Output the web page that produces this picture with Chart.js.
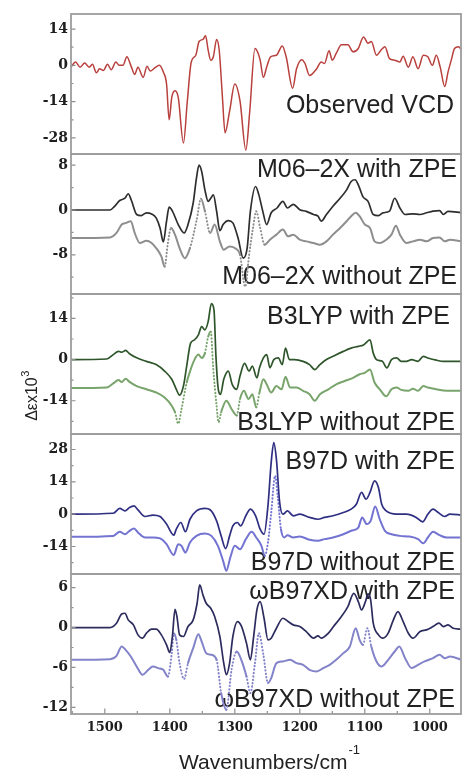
<!DOCTYPE html>
<html>
<head>
<meta charset="utf-8">
<script src="https://cdn.jsdelivr.net/npm/chart.js@4.4.1/dist/chart.umd.min.js"></script>
<style>
  html, body { margin: 0; padding: 0; background: #fff; width: 462px; height: 774px; overflow: hidden; }
  #wrap { position: relative; width: 462px; height: 774px; }
  #wrap canvas { position: absolute; left: 0; }
</style>
</head>
<body>
<div id="wrap"></div>
<script>
// ---- wavenumber axis (cm-1) ----
const xTicks = [1500, 1400, 1300, 1200, 1100, 1000];
const xMin = 952, xMax = 1552;

// ---- y tick values per panel ----
const ticksObs = [-28, -14, 0, 14];
const ticksM06 = [-8, 0, 8];
const ticksB3 = [-14, 0, 14];
const ticksB97 = [-14, 0, 14, 28];
const ticksWb = [-12, -6, 0, 6];

// ---- Observed VCD ----
const obsWn = [1552,1545,1538,1531,1524,1519,1513,1508,1502,1496,1490,1483,1478,1472,1466,1460,1454,1449,1441,1435,1430,1423,1416,1410,1405,1401,1397,1392,1387,1379,1373,1367,1360,1355,1349,1345,1341,1337,1333,1328,1324,1319,1315,1308,1300,1292,1283,1277,1269,1264,1261,1256,1251,1245,1236,1227,1221,1211,1205,1197,1192,1185,1174,1167,1162,1155,1150,1144,1136,1126,1118,1110,1102,1095,1090,1082,1074,1069,1062,1054,1046,1041,1033,1026,1018,1010,1003,996,990,984,977,972,967,962,956,951];
const obsVal = [-0.7,1.3,-0.7,0.9,-0.7,0.4,-2.9,-1.3,-2,0.4,-1.7,1.3,0,0,3.3,0,-3.5,-0.7,-4.6,-0.4,-2.2,-1,0,-2.6,-7.2,-21,-12.4,-9.8,-12.4,-30,-13.7,1.3,3.9,9.2,10,11.4,5.9,2,3.3,10,5.9,-12.4,-26,-17.7,-7.2,-13.7,-32.7,-17.7,6.5,4.6,2,-4.6,-0.7,3.3,3.9,7.5,3.3,-8.8,-1.3,2.2,0.7,-3.9,-1.3,1.3,0.7,5.6,2,4.6,7.9,7.9,5.2,6.5,10.9,8.5,9.2,3.9,6.2,7.2,2.6,2,1.3,3.5,-0.7,3.3,-1.3,3.9,3.3,0,3.9,-0.7,-8.2,-2.6,2,6.5,7.2,5.9];

// ---- M06-2X ----
const m06WithWn = [1552,1492,1485,1477,1469,1464,1459,1451,1444,1436,1428,1421,1415,1410,1405,1401,1396,1387,1378,1372,1364,1359,1355,1351,1346,1341,1337,1333,1328,1323,1318,1310,1303,1295,1287,1281,1276,1268,1263,1257,1251,1244,1235,1226,1219,1210,1200,1190,1179,1172,1167,1159,1149,1138,1128,1121,1115,1110,1103,1095,1087,1079,1072,1062,1054,1046,1038,1026,1015,1005,995,985,979,972,951];
const m06WithVal = [0,0,0.66,1.7,2.1,2.9,1.7,-0.8,-1,-0.5,-0.7,-1.4,-3.2,-5.7,-2,0.5,-0.2,-2.6,-4.1,-2.6,1.25,5.7,8,6.9,3.6,1.55,2.1,2.7,-0.2,-3.7,-2.6,-1.9,-2.3,-5,-8.6,-6.8,-0.2,4.2,2.7,-0.2,-2.6,-0.5,0.36,1.55,0.36,1,0.06,-0.24,-0.8,-1.1,-2,-0.8,0.66,2.1,3.6,5.1,5.4,4.5,2.4,1.55,-0.8,-1,-0.5,-0.2,2.1,0.36,-0.8,-0.7,-0.8,-0.5,-0.2,-0.1,-0.8,-0.24,-0.5];
const m06NoWn = [1552,1492,1482,1474,1467,1460,1454,1446,1436,1428,1421,1413,1408,1403,1398,1392,1385,1377,1369,1359,1352,1346,1338,1331,1323,1317,1308,1300,1292,1284,1278,1272,1267,1261,1254,1246,1236,1226,1218,1210,1200,1190,1179,1169,1159,1149,1138,1128,1121,1114,1108,1100,1092,1085,1077,1067,1059,1052,1046,1036,1026,1015,1005,995,985,977,969,951];
const m06NoVal = [-5,-4.9,-4.1,-2.6,-2.3,-2,-4.1,-5.9,-5.5,-5.9,-6.8,-8.3,-10.1,-5.9,-3.2,-4.4,-6.8,-8.6,-6.8,-2,2,-0.2,-4.1,-2.6,-5.6,-7.1,-6.5,-6.8,-8,-13.7,-8,-3.2,-0.24,-3.2,-6.2,-5.3,-4.4,-3.5,-4.7,-4.4,-5.3,-5.6,-5.9,-6.2,-5.6,-4.4,-3.2,-2,-1.1,-0.5,-1.1,-2.6,-3.2,-5.6,-5.9,-5.3,-4.4,-2.8,-4.4,-5.9,-5.6,-5.3,-5.6,-5,-4.9,-5.6,-5.3,-5.6];

// ---- B3LYP ----
const b3WithWn = [1552,1497,1487,1479,1474,1468,1462,1451,1436,1421,1408,1397,1390,1385,1379,1374,1368,1362,1356,1351,1346,1341,1336,1332,1329,1326,1322,1317,1310,1304,1297,1292,1285,1278,1273,1266,1262,1256,1251,1246,1240,1233,1227,1222,1216,1208,1195,1185,1177,1169,1159,1149,1133,1121,1110,1102,1092,1087,1082,1073,1066,1059,1051,1044,1036,1028,1018,1010,1003,990,979,969,951];
const b3WithVal = [0,0.2,1.7,2.8,2.5,3.1,2,0.6,-0.6,-1.7,-3.9,-6.7,-10.1,-12.1,-9,-2.2,5.6,6.7,8.4,11.2,10.1,12.9,19,16.8,1.1,-9,-11.8,-6.7,-3.9,-8.4,-10.1,-5.6,-1.3,-3.9,-2.2,-6.2,-2.8,0.56,1.7,-2.8,0,0.56,-1.7,3.9,0,0,-0.6,-1.7,-3.4,-1.7,0,1.1,2.8,3.9,4.5,5,6.7,2.2,0,-0.6,-2.8,0,0.56,-0.6,-0.6,0,-0.6,1.1,0.56,-0.2,-0.6,-0.6,-0.6];
const b3NoWn = [1552,1497,1487,1479,1474,1468,1462,1451,1436,1421,1408,1397,1392,1387,1382,1374,1368,1362,1356,1351,1346,1341,1337,1333,1328,1325,1321,1313,1305,1297,1292,1286,1279,1273,1267,1262,1256,1251,1244,1236,1228,1222,1215,1205,1195,1185,1177,1169,1156,1144,1131,1118,1108,1100,1092,1085,1077,1067,1059,1051,1044,1033,1026,1018,1010,1003,990,974,951];
const b3NoVal = [-9.7,-9.5,-8.1,-6.9,-7.6,-6.5,-7.6,-9,-10.1,-11.2,-12.9,-15.7,-17.9,-21.8,-16.8,-7.8,-3.4,0,1.7,0.56,2.2,7.8,9.5,-3.4,-15.7,-21.3,-17.9,-14,-16.8,-19,-13.4,-10.6,-13.4,-11.8,-16.2,-11.2,-6.7,-8.4,-11.2,-9,-10.1,-5.8,-9.5,-9.5,-10.6,-11.8,-14,-11.8,-10.1,-8.4,-7.3,-6.2,-5,-4.5,-3.4,-7.8,-10.1,-12.5,-10.1,-9.5,-10.3,-10.6,-9.9,-10.6,-9,-9.5,-10.1,-10.6,-10.6];

// ---- B97D ----
const b97WithWn = [1552,1487,1477,1469,1462,1455,1449,1438,1426,1415,1405,1394,1390,1383,1376,1369,1359,1346,1338,1328,1321,1314,1308,1303,1296,1291,1283,1276,1268,1261,1255,1249,1244,1240,1236,1231,1226,1219,1210,1200,1185,1172,1162,1149,1133,1121,1113,1105,1098,1092,1085,1079,1074,1067,1051,1036,1021,1011,1003,995,987,977,969,951];
const b97WithVal = [0,0.4,2.5,1.4,2.9,3.6,1.9,-1,-0.4,-1,-4.3,-9.1,-6.5,-3.6,-7.6,-2.2,1.4,2.5,1.9,-2.9,-9.4,-14.9,-9.4,-5.1,-3.6,-5.1,-0.7,2.2,-0.7,-6.5,-8.7,3.6,22.4,31,23.8,5.1,0,1.4,-0.7,0,-1.4,-2.2,-1.4,-0.7,0.7,2.2,4.3,9.4,6.5,9.4,14.4,11.5,4.3,1.4,0,0,-1.4,-3.3,0,2.2,0.7,-1,0,-0.4];
const b97NoWn = [1552,1487,1477,1469,1462,1455,1449,1438,1426,1415,1405,1394,1387,1382,1376,1369,1359,1346,1336,1326,1318,1313,1307,1300,1292,1283,1274,1267,1259,1254,1249,1244,1238,1234,1229,1224,1219,1210,1200,1185,1172,1162,1149,1133,1121,1110,1104,1097,1091,1084,1077,1069,1059,1046,1031,1018,1010,1003,995,985,974,951];
const b97NoVal = [-9.8,-9.4,-7.6,-8.7,-7.2,-6.2,-7.9,-10.1,-10.1,-10.5,-13,-17.7,-13,-13.7,-16.6,-12.3,-9.4,-8.4,-9.4,-13.7,-20.2,-24.5,-18.8,-13.7,-15.2,-10.8,-7.6,-10.1,-13.7,-18,-12.3,0.7,16.6,7.9,-6.5,-10.1,-9.1,-10.1,-9.7,-11.1,-11.5,-10.8,-10.1,-8.7,-7.2,-5.8,-1.4,-4.3,-2.9,3.3,-2.2,-7.2,-8.7,-9.4,-9.7,-10.8,-12.6,-10.1,-7.6,-9.1,-10.1,-10.1];

// ---- wB97XD ----
const wbWithWn = [1552,1492,1482,1474,1469,1464,1456,1449,1442,1436,1428,1421,1413,1405,1400,1396,1392,1389,1385,1379,1372,1364,1358,1354,1349,1344,1337,1331,1323,1317,1313,1308,1303,1296,1290,1282,1276,1271,1266,1261,1255,1249,1244,1236,1226,1218,1210,1200,1190,1179,1172,1167,1156,1149,1138,1126,1117,1110,1105,1099,1095,1091,1087,1079,1072,1064,1056,1049,1041,1033,1026,1015,1005,995,986,979,972,964,951];
const wbWithVal = [0,0,0.65,2.05,2.15,1.15,0.4,-1.1,-1.6,-0.85,-0.25,-0.25,-1.1,-2.6,-3.75,-1.35,2.75,1.65,-1.1,-1.35,0.15,1.15,3.65,6.4,4.9,3.65,2.9,1.65,-1.35,-5.35,-7.1,-5.35,-1.35,0.9,0.25,-2.35,-4.85,-1.35,2.65,3.9,1.4,-1.85,-1.6,-0.1,1.4,0.9,0.4,0.15,-0.6,-1.6,-1.25,-1.6,-0.85,0.05,1.4,3.15,5.15,3.9,2.65,3.9,5.05,4.15,0.65,-1.1,-1.6,-0.85,1.15,2.4,0.9,-0.85,-1.6,-0.6,-0.35,0.15,0.65,0.15,0.4,-0.1,-0.25];
const wbNoWn = [1552,1492,1482,1474,1468,1460,1451,1442,1433,1426,1418,1410,1403,1397,1394,1390,1385,1378,1372,1364,1356,1351,1344,1336,1328,1321,1313,1305,1297,1290,1282,1276,1269,1263,1256,1249,1244,1236,1226,1215,1205,1195,1185,1174,1164,1154,1144,1133,1123,1114,1108,1103,1096,1090,1082,1074,1064,1054,1047,1038,1028,1018,1008,995,985,977,969,951];
const wbNoVal = [-4.85,-4.75,-4.25,-2.85,-3.35,-4.35,-5.85,-7.1,-6.35,-5.85,-6.1,-6.35,-7.35,-3.85,-0.85,-1.85,-5.35,-7.75,-5.35,-3.1,-1,-2.1,-3.85,-4.1,-4.85,-9.85,-12.35,-6.35,-3.6,-4.85,-7.35,-9.85,-5.35,-0.85,-4.1,-8.35,-7.6,-5.35,-5.1,-4.85,-5.35,-5.6,-6.35,-6.6,-6.1,-5.6,-4.85,-3.85,-2.85,-0.1,-1.85,-2.6,-0.1,-2.85,-5.1,-5.85,-4.85,-3.6,-2.85,-4.6,-6.1,-5.6,-5.1,-4.6,-4.1,-4.6,-4.35,-4.85];

// ---- panel layout (pixel frame of each plot box) ----
const panels = [
  { top: 14,  bottom: 154, yMin: -34.2, yMax: 19.8, yTicks: ticksObs,
    series: [ { wn: obsWn, val: obsVal, color: '#b8403d', width: 1.5 } ],
    labels: [ { text: 'Observed VCD', dx: 7, fromTop: true, dy: 99 } ] },
  { top: 154, bottom: 294, yMin: -15, yMax: 10, yTicks: ticksM06,
    series: [ { wn: m06WithWn, val: m06WithVal, color: '#2e2e2e', width: 1.7 },
              { wn: m06NoWn, val: m06NoVal, color: '#8e8e8e', width: 2, dotted: true } ],
    labels: [ { text: 'M06\u20132X with ZPE', dx: 4, fromTop: true, dy: 22.7 },
              { text: 'M06\u20132X without ZPE', dx: 4, fromTop: false, dy: 9.7 } ] },
  { top: 294, bottom: 434, yMin: -25.3, yMax: 22.3, yTicks: ticksB3, yTitle: true,
    series: [ { wn: b3WithWn, val: b3WithVal, color: '#2f552b', width: 1.7 },
              { wn: b3NoWn, val: b3NoVal, color: '#79a46c', width: 2, dotted: true } ],
    labels: [ { text: 'B3LYP with ZPE', dx: 11, fromTop: true, dy: 30.3 },
              { text: 'B3LYP without ZPE', dx: 6, fromTop: false, dy: 4 } ] },
  { top: 434, bottom: 574, yMin: -25.9, yMax: 34.7, yTicks: ticksB97,
    series: [ { wn: b97WithWn, val: b97WithVal, color: '#2f2f82', width: 1.7 },
              { wn: b97NoWn, val: b97NoVal, color: '#7373d2', width: 2, dotted: true } ],
    labels: [ { text: 'B97D with ZPE', dx: 6, fromTop: true, dy: 35 },
              { text: 'B97D without ZPE', dx: 6, fromTop: false, dy: 4 } ] },
  { top: 574, bottom: 714, yMin: -13, yMax: 8.05, yTicks: ticksWb, xAxis: true,
    series: [ { wn: wbWithWn, val: wbWithVal, color: '#2c2c5e', width: 1.7 },
              { wn: wbNoWn, val: wbNoVal, color: '#8383c9', width: 2, dotted: true } ],
    labels: [ { text: '\u03C9B97XD with ZPE', dx: 6, fromTop: true, dy: 25.3 },
              { text: '\u03C9B97XD without ZPE', dx: 6, fromTop: false, dy: 7.3 } ] }
];

const tickFont = 'DejaVu Serif';
const labelFont = '"Liberation Sans", Arial, sans-serif';

// labels behind the curves, frame / inward ticks / axis titles on top
const panelDeco = {
  id: 'panelDeco',
  beforeDatasetsDraw(chart) {
    const o = chart.options.plugins.panelDeco;
    const { ctx, chartArea: a } = chart;
    ctx.save();
    ctx.fillStyle = '#222';
    ctx.font = '25px ' + labelFont;
    ctx.textAlign = 'right';
    ctx.textBaseline = 'alphabetic';
    o.labels.forEach(l => {
      ctx.fillText(l.text, a.right - l.dx, l.fromTop ? a.top + l.dy : a.bottom - l.dy);
    });
    ctx.restore();
  },
  afterDatasetsDraw(chart) {
    const o = chart.options.plugins.panelDeco;
    const { ctx, chartArea: a } = chart;
    const ys = chart.scales.y, xs = chart.scales.x;
    ctx.save();
    ctx.strokeStyle = '#8f8f8f';
    ctx.lineWidth = 1.2;
    // inward y ticks: majors plus halfway minors
    const maj = ys.ticks.map(t => t.value);
    const step = maj[1] - maj[0];
    const minors = [maj[0] - step / 2].concat(maj.map(v => v + step / 2))
      .filter(v => v > ys.min && v < ys.max);
    ctx.beginPath();
    maj.forEach(v => { const p = ys.getPixelForValue(v); ctx.moveTo(a.left, p); ctx.lineTo(a.left + 4.5, p); });
    minors.forEach(v => { const p = ys.getPixelForValue(v); ctx.moveTo(a.left, p); ctx.lineTo(a.left + 2.5, p); });
    if (o.xAxis) {
      const xm = xs.ticks.map(t => t.value);
      const xStep = Math.abs(xm[1] - xm[0]);
      const xMinor = [xm[0] + xStep / 2].concat(xm.map(v => v - xStep / 2))
        .filter(v => v > xs.min && v < xs.max);
      xm.forEach(v => { const p = xs.getPixelForValue(v); ctx.moveTo(p, a.bottom); ctx.lineTo(p, a.bottom - 5.5); });
      xMinor.forEach(v => { const p = xs.getPixelForValue(v); ctx.moveTo(p, a.bottom); ctx.lineTo(p, a.bottom - 3); });
    }
    ctx.stroke();
    // plot frame
    ctx.strokeStyle = '#9d9d9d';
    ctx.lineWidth = 1.8;
    ctx.strokeRect(a.left, a.top, a.right - a.left, a.bottom - a.top);
    ctx.fillStyle = '#222';
    // y-axis title, reading upward
    if (o.yTitle) {
      ctx.save();
      ctx.font = '16px ' + labelFont;
      const body = '\u0394\u03B5x10';
      const wBody = ctx.measureText(body).width;
      ctx.font = '11px ' + labelFont;
      const wSup = ctx.measureText('3').width;
      const cy = a.top + 102;
      ctx.translate(37, cy + (wBody + wSup) / 2);
      ctx.rotate(-Math.PI / 2);
      ctx.textAlign = 'left';
      ctx.textBaseline = 'alphabetic';
      ctx.font = '16px ' + labelFont;
      ctx.fillText(body, 0, 0);
      ctx.font = '11px ' + labelFont;
      ctx.fillText('3', wBody + 0.5, -8);
      ctx.restore();
    }
    // x-axis title with superscript
    if (o.xAxis) {
      ctx.font = '21px ' + labelFont;
      const main = 'Wavenumbers/cm';
      const wMain = ctx.measureText(main).width;
      ctx.font = '13px ' + labelFont;
      const wSup = ctx.measureText('-1').width;
      const x0 = (a.left + a.right) / 2 + 3 - (wMain + wSup) / 2;
      ctx.textAlign = 'left';
      ctx.textBaseline = 'alphabetic';
      ctx.font = '21px ' + labelFont;
      ctx.fillText(main, x0, a.bottom + 55.3);
      ctx.font = '13px ' + labelFont;
      ctx.fillText('-1', x0 + wMain + 1, a.bottom + 40);
    }
    ctx.restore();
  }
};

// steep stretches of the "without ZPE" traces are drawn dotted
const steep = c => Math.abs(c.p1.y - c.p0.y) > 3.5 * Math.abs(c.p1.x - c.p0.x);

const wrap = document.getElementById('wrap');
panels.forEach(p => {
  const padT = 12;
  const padB = p.xAxis ? 0 : 12;
  const axisH = p.xAxis ? 60 : 0;
  const cv = document.createElement('canvas');
  cv.width = 462;
  cv.height = (p.bottom - p.top) + padT + padB + axisH;
  cv.style.top = (p.top - padT) + 'px';
  cv.style.width = '462px';
  cv.style.height = cv.height + 'px';
  wrap.appendChild(cv);

  const datasets = p.series.map(s => ({
    data: s.wn.map((w, k) => ({ x: w, y: s.val[k] })),
    borderColor: s.color,
    borderWidth: s.width,
    borderCapStyle: 'round',
    borderJoinStyle: 'round',
    pointRadius: 0,
    fill: false,
    cubicInterpolationMode: 'monotone',
    segment: s.dotted ? { borderDash: c => steep(c) ? [0.4, 3] : undefined } : undefined
  }));

  new Chart(cv, {
    type: 'line',
    data: { datasets },
    options: {
      responsive: false,
      animation: false,
      events: [],
      layout: { padding: { top: padT, bottom: padB, left: 0, right: 1 } },
      plugins: {
        legend: { display: false },
        tooltip: { enabled: false },
        panelDeco: { labels: p.labels, xAxis: !!p.xAxis, yTitle: !!p.yTitle }
      },
      scales: {
        x: {
          type: 'linear',
          reverse: true,
          min: xMin,
          max: xMax,
          display: !!p.xAxis,
          afterFit: s => { s.height = axisH; },
          afterBuildTicks: s => { s.ticks = xTicks.map(v => ({ value: v })); },
          grid: { display: false, drawTicks: false },
          border: { display: false },
          ticks: { padding: 6, color: '#1e1e1e', font: { family: tickFont, weight: 'bold', size: 13 },
                   maxRotation: 0, callback: v => String(v) }
        },
        y: {
          type: 'linear',
          min: p.yMin,
          max: p.yMax,
          afterFit: s => { s.width = 71; },
          afterBuildTicks: s => { s.ticks = p.yTicks.map(v => ({ value: v })); },
          grid: { display: false, drawTicks: false },
          border: { display: false },
          ticks: { padding: 3, color: '#1e1e1e', font: { family: tickFont, weight: 'bold', size: 14 },
                   callback: v => String(v) }
        }
      }
    },
    plugins: [panelDeco]
  });
});
</script>
</body>
</html>
